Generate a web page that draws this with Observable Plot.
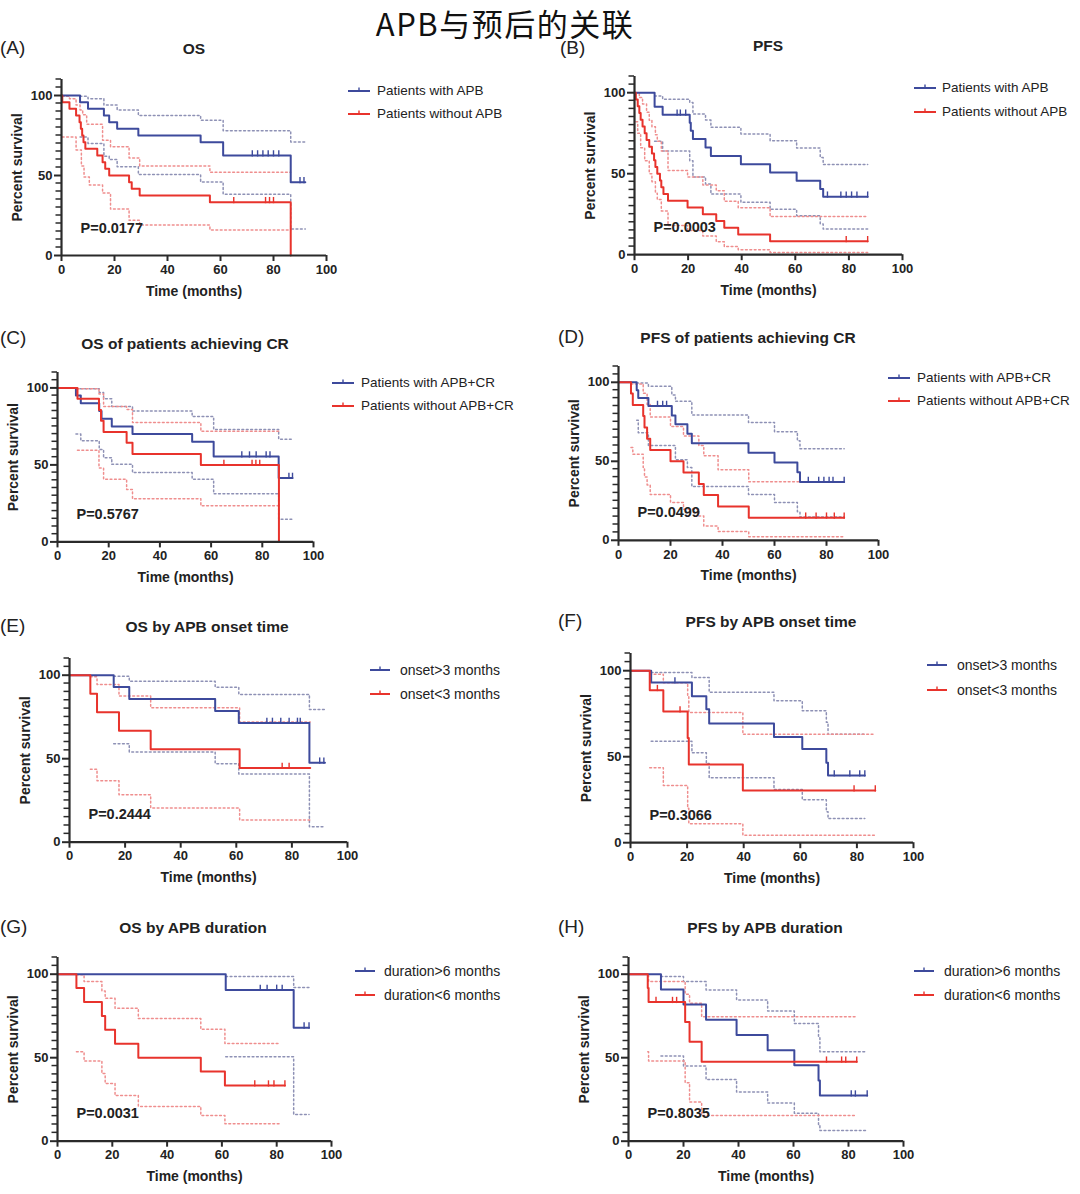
<!DOCTYPE html>
<html>
<head>
<meta charset="utf-8">
<script src="https://cdn.jsdelivr.net/npm/d3@7"></script>
<script src="https://cdn.jsdelivr.net/npm/@observablehq/plot@0.6"></script>
<style>
  html, body { margin: 0; padding: 0; background: #fff; }
  #page { position: relative; width: 1080px; height: 1194px; background: #fff; overflow: hidden; font-family: "Liberation Sans", Arial, sans-serif; color: #222; }
  .t { position: absolute; white-space: nowrap; line-height: 1.15; }
  .chart { position: absolute; }
  .chart svg { overflow: visible; }
</style>
</head>
<body>
<div id="page"></div>
<script>
const pageTitle = "APB与预后的关联";
const panelLetters = ["(A)", "(B)", "(C)", "(D)", "(E)", "(F)", "(G)", "(H)"];
const panelTitles = ["OS", "PFS", "OS of patients achieving CR", "PFS of patients achieving CR",
  "OS by APB onset time", "PFS by APB onset time", "OS by APB duration", "PFS by APB duration"];
const pValues = ["P=0.0177", "P=0.0003", "P=0.5767", "P=0.0499", "P=0.2444", "P=0.3066", "P=0.0031", "P=0.8035"];
const legendAB = ["Patients with APB", "Patients without APB"];
const legendCD = ["Patients with APB+CR", "Patients without APB+CR"];
const legendEF = ["onset>3 months", "onset<3 months"];
const legendGH = ["duration>6 months", "duration<6 months"];
const xLabel = "Time (months)";
const yLabel = "Percent survival";
const xTicks = [0, 20, 40, 60, 80, 100];
const yTicks = [0, 50, 100];
const yMinorTicks = [5, 10, 15, 20, 25, 30, 35, 40, 45, 55, 60, 65, 70, 75, 80, 85, 90, 95, 105, 110];

// data: [time (months), percent survival]
// (A) OS
const aBlue = [[0,100],[7,95.8],[10,91.7],[16,87.5],[18,83.3],[21,79.2],[29,75],[52.5,70.8],[61,62.5],[86.5,45.8],[92,45.8]];
const aBlueCens = [[72,62.5],[74,62.5],[76,62.5],[78,62.5],[80,62.5],[82,62.5],[90,45.8],[91.5,45.8]];
const aRed = [[0,100],[0.3,95.8],[3,91.7],[5.5,87.5],[6.8,83.3],[7.3,79.2],[7.8,75],[8.3,70.8],[9,66.7],[13.5,62.5],[15.5,58.3],[16.5,54.2],[18,50],[25.5,45.8],[26.5,41.7],[29.5,37.5],[56,33.3],[86.5,0]];
const aRedCens = [[65,33.3],[77,33.3],[78.5,33.3],[80,33.3]];
const aBlueHi = [[7,99.5],[10,98],[16,94],[21,91],[29,87.5],[52.5,84.6],[61,78],[86.5,71],[92,71]];
const aBlueLo = [[7,74],[10,70],[16,62],[18,60],[21,55.4],[29,50.6],[52.5,46],[61,38.3],[86.5,16.5],[92,16.5]];
const aRedHi = [[0.3,99.5],[3,98],[5.5,94],[7,91],[8,88],[9.5,82],[15.5,72],[18.5,68],[25.5,61],[29.5,56],[56,52],[86.5,52]];
const aRedLo = [[0.3,74],[5.5,66],[7.5,56],[8.5,49],[10.5,44],[15.5,39],[18.5,29],[25.5,22],[29.5,19],[56,16],[86.5,16]];
// (B) PFS
const bBlue = [[0,100],[7.5,91.4],[10.5,86.4],[20.6,81.5],[21,76.5],[21.8,71.4],[26.5,66.2],[28.5,61],[39.7,55.9],[50.6,50.8],[60.5,45.7],[69.3,40.6],[70.4,35.8],[87,35.8]];
const bBlueCens = [[15.9,86.4],[17.1,86.4],[19.1,86.4],[72,35.8],[77,35.8],[79,35.8],[81,35.8],[83,35.8],[87,35.8]];
const bRed = [[0,100],[0.5,95.8],[1.2,91.7],[1.8,87.5],[2.3,83.3],[3,79.2],[3.8,75],[4.5,70.8],[5.5,66.7],[6.5,62.5],[7.3,58.3],[7.8,54.2],[8.5,50],[9.5,45.8],[10,41.7],[10.8,37.5],[12.5,33.3],[19.8,29.2],[25.5,25],[30.5,20.8],[33.5,16.7],[38.7,12.5],[50.6,8.3],[87,8.3]];
const bRedCens = [[79,8.3],[87,8.3]];
const bBlueHi = [[7.5,98],[10.5,96],[20.6,94],[21.8,86.8],[26.5,83.1],[28.5,78.6],[39.7,74.5],[50.6,70.4],[60.5,65.8],[69.3,60],[70.4,55.6],[87,55.6]];
const bBlueLo = [[7.5,70],[10.5,64],[20.6,58],[21.8,48],[26.5,43.6],[28.5,37.4],[39.7,32.3],[50.6,28],[60.5,24],[69.3,19],[70.4,15.8],[87,15.8]];
const bRedHi = [[0.5,100],[1.8,97],[3,93],[4.5,88],[5.5,83],[6.5,79],[7.8,74],[8.5,70],[10,64],[12.5,52],[19.8,48],[25.5,43],[30.5,39.5],[33.5,33],[38.7,29],[50.6,23.5],[87,23.5]];
const bRedLo = [[0.5,82],[1.2,75],[2.3,66],[3.8,58],[5.5,50],[6.5,45],[7.8,38],[8.5,34],[10,27],[12.5,18],[19.8,15],[25.5,11.5],[30.5,8],[33.5,5],[38.7,3],[50.6,1.4],[87,1.4]];
// (C) OS of patients achieving CR
const cBlue = [[0,100],[7.2,95],[9.1,90],[16.3,85],[17.2,80],[21.2,75],[29.3,70],[52.6,65],[61,55.4],[86.4,41.5],[91.8,41.5]];
const cBlueCens = [[72,55.4],[75,55.4],[77.6,55.4],[81.5,55.4],[83,55.4],[90.4,41.5],[91.8,41.5]];
const cRed = [[0,100],[7.8,92.9],[16.2,85.7],[17,78.6],[18,71.4],[27,64.3],[29.3,57.1],[56,50],[86.5,0]];
const cRedCens = [[65,50],[76,50],[77.5,50],[79,50]];
const cBlueHi = [[7.2,99.5],[16.3,97],[18,93],[21.2,88],[29.3,85],[52.6,81.4],[61,73],[86.4,66.7],[91.8,66.7]];
const cBlueLo = [[7.2,70],[9.1,65.6],[16.3,60],[18,54.7],[21.2,50.4],[29.3,45],[52.6,40.7],[61,31.2],[86.4,14.7],[91.8,14.7]];
const cRedHi = [[7.8,99.5],[16.2,96],[18,88],[27,86],[29.3,77.5],[56,71.8],[86.5,71.8]];
const cRedLo = [[7.8,59.5],[16.2,48],[18,40.7],[27,34],[29.3,28],[56,23.4],[86.5,23.4]];
// (D) PFS of patients achieving CR
const dBlue = [[0,100],[7,95],[7.6,90],[11.5,85],[20.5,79],[21.9,73.5],[26.5,67.5],[28.2,61.5],[50,55.4],[60,49.2],[68.8,43],[69.8,36.9],[86.8,36.9]];
const dBlueCens = [[15,85],[17,85],[18.5,85],[73,36.9],[77,36.9],[79,36.9],[81,36.9],[82.5,36.9],[86.8,36.9]];
const dRed = [[0,100],[4.8,92.9],[5.5,85.7],[9.5,78.6],[10,71.4],[11,64.3],[12.2,57.1],[20,50],[25,42.9],[30.9,35.7],[32.8,28.6],[38.3,21.4],[50.1,14.3],[86.8,14.3]];
const dRedCens = [[72,14.3],[76,14.3],[80,14.3],[83,14.3],[86.8,14.3]];
const dBlueHi = [[7,99.5],[11.5,97.5],[20.5,92],[21.9,88],[28.2,79.3],[50,74.6],[60,68.7],[68.8,63],[69.8,58],[86.8,58]];
const dBlueLo = [[7,76],[7.6,68],[11.5,60],[21.9,51],[26.5,46],[28.2,34],[50,29],[60,24],[68.8,18],[69.8,14.8],[86.8,14.8]];
const dRedHi = [[4.8,99],[9.5,93],[11,86],[12.2,78],[20,72],[25,66],[30.9,60],[32.8,53.5],[38.3,44.6],[50.1,37],[86.8,37]];
const dRedLo = [[4.8,58.8],[5.5,54.5],[9.5,46],[10,40],[11,35],[12.2,29],[20,24],[25,19.7],[30.9,15.4],[32.8,9],[38.3,5.5],[50.1,2.3],[86.8,2.3]];
// (E) OS by APB onset time
const eBlue = [[0,100],[15.9,92.9],[21.5,85.7],[52.4,78.6],[60.9,71.4],[86.3,47.6],[91.9,47.6]];
const eBlueCens = [[71,71.4],[73,71.4],[76,71.4],[79,71.4],[82,71.4],[83,71.4],[90,47.6],[91.5,47.6]];
const eRed = [[0,100],[7.5,88.9],[9.9,77.8],[17.8,66.7],[29.2,55.6],[61.2,44.4],[86.6,44.4]];
const eRedCens = [[76.5,44.4],[79,44.4]];
const eBlueHi = [[15.9,99.4],[21.5,96.4],[52.4,92.8],[60.9,88.5],[86.3,79.5],[91.9,79.5]];
const eBlueLo = [[15.9,59],[21.5,54],[52.4,47],[60.9,40.8],[86.3,9.3],[91.9,9.3]];
const eRedHi = [[7.5,99],[9.9,94.5],[17.8,87.5],[29.2,80.5],[61.2,72],[86.6,72]];
const eRedLo = [[7.5,43.7],[9.9,36.8],[17.8,28.4],[29.2,20.5],[61.2,13.3],[86.6,13.3]];
// (F) PFS by APB onset time
const fBlue = [[0,100],[7.3,93.2],[21.7,85.2],[26.8,77.6],[27.8,69.3],[50.7,61.5],[60.7,54.5],[69.2,46.5],[69.8,39.1],[82.8,39.1]];
const fBlueCens = [[15.7,93.2],[72,39.1],[77.5,39.1],[81,39.1],[82.8,39.1]];
const fRed = [[0,100],[6.8,88.7],[11.6,76.3],[20.2,60.8],[20.6,45.5],[39.7,30.4],[86.5,30.4]];
const fRedCens = [[9.5,88.7],[17.5,76.3],[79,30.4],[86.5,30.4]];
const fBlueHi = [[7.3,99],[21.7,96],[27.8,87.4],[50.7,82.5],[60.7,76.7],[69.2,70],[69.8,63],[82.8,63]];
const fBlueLo = [[7.3,59],[21.7,52.3],[26.8,46],[27.8,37.7],[50.7,30.9],[60.7,25],[69.2,18],[69.8,14],[82.8,14]];
const fRedHi = [[6.8,98],[11.6,93],[20.2,85],[20.6,75.7],[39.7,63],[86.5,63]];
const fRedLo = [[6.8,43.6],[11.6,33.3],[20.2,20],[20.6,11],[39.7,4.3],[86.5,4.3]];
// (G) OS by APB duration
const gBlue = [[0,100],[61.4,90.6],[86.2,68],[91.8,68]];
const gBlueCens = [[74,90.6],[76.5,90.6],[80,90.6],[82,90.6],[90,68],[91.8,68]];
const gRed = [[0,100],[6.9,91.7],[9.7,83.3],[16.2,75],[17.4,66.7],[21,58.3],[29.5,50],[52.3,41.7],[61.1,33.3],[83,33.3]];
const gRedCens = [[72,33.3],[77,33.3],[79,33.3],[83,33.3]];
const gBlueHi = [[61.4,98.6],[86.2,92],[91.8,92]];
const gBlueLo = [[61.4,50.5],[86.2,16],[91.8,16]];
const gRedHi = [[6.9,99.6],[9.7,95.6],[16.2,90],[17.4,85.6],[21,79.6],[29.5,73.4],[52.3,67],[61.1,58.5],[81,58.5]];
const gRedLo = [[6.9,53.5],[9.7,48],[16.2,40.5],[17.4,34.5],[21,27.3],[29.5,20.8],[52.3,15.4],[61.1,10.4],[81,10.4]];
// (H) PFS by APB duration
const hBlue = [[0,100],[11.8,90.9],[20,81.8],[28.2,72.7],[39.3,63.6],[50.6,54.5],[60.3,45.5],[69.1,36.4],[69.6,27.3],[86.8,27.3]];
const hBlueCens = [[81,27.3],[82.5,27.3],[86.8,27.3]];
const hRed = [[0,100],[7,91.7],[7.3,83.3],[20.6,71.4],[22.2,59.5],[26.6,47.6],[83,47.6]];
const hRedCens = [[10,83.3],[16,83.3],[17.5,83.3],[72,47.6],[77.5,47.6],[79,47.6],[83,47.6]];
const hBlueHi = [[11.8,98.6],[20,95.6],[28.2,90.6],[39.3,84.6],[50.6,78],[60.3,70.5],[69.1,62],[69.6,53.5],[86.8,53.5]];
const hBlueLo = [[11.8,51],[20,45],[28.2,36.9],[39.3,29.5],[50.6,22.8],[60.3,16.8],[69.1,10],[69.6,6.4],[86.8,6.4]];
const hRedHi = [[7,99],[7.3,95.6],[20.6,88],[22.2,82.6],[26.6,74.5],[83,74.5]];
const hRedLo = [[7,53.5],[7.3,48],[20.6,35],[22.2,23.4],[26.6,15.4],[83,15.4]];

const BLUE = "#3d4a9c", RED = "#e8332c", BLUE_CI = "#8e91b5", RED_CI = "#ef8e8e", AXIS = "#2a2a2a";
const FONT = "'Liberation Sans', Arial, sans-serif";

const panels = [
  {x0:61,  x100:326, y0:255,  y100:95,  title:[194,49],  letter:[0,48],   leg:[348,370,377,91,114, 13.5], legend: legendAB,
   d:[aBlue,aRed,aBlueHi,aBlueLo,aRedHi,aRedLo,aBlueCens,aRedCens]},
  {x0:634, x100:902, y0:254,  y100:92,  title:[768,46],  letter:[560,48], leg:[914,936,942,88,112, 13.5], legend: legendAB,
   d:[bBlue,bRed,bBlueHi,bBlueLo,bRedHi,bRedLo,bBlueCens,bRedCens]},
  {x0:57,  x100:313, y0:541,  y100:387, title:[185,344], letter:[0,338],  leg:[332,354,361,383,406, 13.5], legend: legendCD,
   d:[cBlue,cRed,cBlueHi,cBlueLo,cRedHi,cRedLo,cBlueCens,cRedCens]},
  {x0:618, x100:878, y0:540,  y100:382, title:[748,338], letter:[558,337],leg:[888,910,917,378,401, 13.5], legend: legendCD,
   d:[dBlue,dRed,dBlueHi,dBlueLo,dRedHi,dRedLo,dBlueCens,dRedCens]},
  {x0:69,  x100:347, y0:842,  y100:675, title:[207,627], letter:[0,626],  leg:[370,390,400,670,694, 14], legend: legendEF,
   d:[eBlue,eRed,eBlueHi,eBlueLo,eRedHi,eRedLo,eBlueCens,eRedCens]},
  {x0:630, x100:913, y0:842,  y100:670, title:[771,622], letter:[558,621],leg:[927,947,957,665,690, 14], legend: legendEF,
   d:[fBlue,fRed,fBlueHi,fBlueLo,fRedHi,fRedLo,fBlueCens,fRedCens]},
  {x0:57,  x100:331, y0:1141, y100:974, title:[193,928], letter:[0,927],  leg:[355,375,384,971,995, 14], legend: legendGH,
   d:[gBlue,gRed,gBlueHi,gBlueLo,gRedHi,gRedLo,gBlueCens,gRedCens]},
  {x0:628, x100:903, y0:1141, y100:974, title:[765,928], letter:[558,927],leg:[914,934,944,971,995, 14], legend: legendGH,
   d:[hBlue,hRed,hBlueHi,hBlueLo,hRedHi,hRedLo,hBlueCens,hRedCens]},
];

const page = document.getElementById("page");

function addText(str, x, y, opts = {}) {
  const el = document.createElement("div");
  el.className = "t";
  el.textContent = str;
  el.style.left = x + "px";
  el.style.top = y + "px";
  el.style.fontSize = (opts.size || 14) + "px";
  el.style.fontWeight = opts.weight || "normal";
  if (opts.family) el.style.fontFamily = opts.family;
  if (opts.color) el.style.color = opts.color;
  if (opts.lineHeight) el.style.lineHeight = opts.lineHeight;
  if (opts.spacing) el.style.letterSpacing = opts.spacing;
  const tx = opts.anchor === "middle" ? "-50%" : "0";
  el.style.transform = `translate(${tx}, -50%)`;
  page.appendChild(el);
  return el;
}

const censorSymbol = {
  draw(context, size) {
    const h = Math.sqrt(size) * 0.9;
    context.moveTo(0, 1);
    context.lineTo(0, -h);
  }
};

function legendSwatch(color, x1, x2, y) {
  const ns = "http://www.w3.org/2000/svg";
  const svg = document.createElementNS(ns, "svg");
  const w = x2 - x1;
  svg.setAttribute("width", w);
  svg.setAttribute("height", 12);
  svg.style.position = "absolute";
  svg.style.left = x1 + "px";
  svg.style.top = (y - 6) + "px";
  const line = document.createElementNS(ns, "line");
  line.setAttribute("x1", 0); line.setAttribute("x2", w);
  line.setAttribute("y1", 6); line.setAttribute("y2", 6);
  line.setAttribute("stroke", color); line.setAttribute("stroke-width", 2);
  svg.appendChild(line);
  const tick = document.createElementNS(ns, "line");
  tick.setAttribute("x1", w / 2); tick.setAttribute("x2", w / 2);
  tick.setAttribute("y1", 6); tick.setAttribute("y2", 2.5);
  tick.setAttribute("stroke", color); tick.setAttribute("stroke-width", 1.4);
  svg.appendChild(tick);
  page.appendChild(svg);
}

addText(pageTitle, 505, 22, {size: 31, anchor: "middle", lineHeight: "1", spacing: "1.5px", family: "'Noto Sans CJK SC', 'Liberation Serif', serif", color: "#111"});

panels.forEach((p, i) => {
  const [blue, red, blueHi, blueLo, redHi, redLo, blueCens, redCens] = p.d;
  const ppy = (p.y0 - p.y100) / 100;
  const mL = 52, mR = 18, mT = 6, mB = 52;
  const plotW = p.x100 - p.x0;
  const plotH = 110 * ppy;
  const X = d => d[0], Y = d => d[1];
  const ciLine = (data, color) => Plot.line(data, {x: X, y: Y, curve: "step-after", stroke: color, strokeWidth: 1.5, strokeDasharray: "1.8,2.6"});
  const kmLine = (data, color) => Plot.line(data, {x: X, y: Y, curve: "step-after", stroke: color, strokeWidth: 2});
  const cens = (data, color) => Plot.dot(data, {x: X, y: Y, symbol: censorSymbol, r: 3.3, stroke: color, strokeWidth: 1.4, fill: "none"});

  const chart = Plot.plot({
    width: mL + plotW + mR,
    height: mT + plotH + mB,
    marginLeft: mL, marginRight: mR, marginTop: mT, marginBottom: mB,
    x: {domain: [0, 100], axis: null},
    y: {domain: [0, 110], axis: null},
    style: {fontFamily: FONT, color: AXIS, background: "transparent", overflow: "visible"},
    marks: [
      ciLine(blueHi, BLUE_CI), ciLine(blueLo, BLUE_CI),
      ciLine(redHi, RED_CI), ciLine(redLo, RED_CI),
      kmLine(blue, BLUE), kmLine(red, RED),
      cens(blueCens, BLUE), cens(redCens, RED),
      Plot.axisX({ticks: xTicks, tickSize: 6, tickPadding: 3, tickFormat: d => d, fontSize: 13, fontWeight: "bold", label: null, strokeWidth: 2, stroke: AXIS, fill: "#222"}),
      Plot.axisY({ticks: yTicks, tickSize: 7, tickPadding: 2, tickFormat: d => d, fontSize: 13, fontWeight: "bold", label: null, strokeWidth: 2, stroke: AXIS, fill: "#222"}),
      Plot.ruleX([0], {stroke: AXIS, strokeWidth: 2.2}),
      Plot.ruleY([0], {stroke: AXIS, strokeWidth: 2.2}),
      Plot.text([xLabel], {text: d => d, frameAnchor: "bottom", dy: 40, fontSize: 14, fontWeight: "bold", fill: "#222"}),
      Plot.text([yLabel], {text: d => d, frameAnchor: "left", textAnchor: "middle", dx: -44, rotate: -90, fontSize: 14, fontWeight: "bold", fill: "#222"}),
      Plot.text([pValues[i]], {text: d => d, frameAnchor: "bottom-left", dx: 19, dy: -23, textAnchor: "start", fontSize: 14.5, fontWeight: "bold", fill: "#222"})
    ]
  });
  // minor y ticks, positioned with the chart's own y scale
  const yScale = chart.scale("y");
  const ns = "http://www.w3.org/2000/svg";
  const g = document.createElementNS(ns, "g");
  g.setAttribute("stroke", AXIS);
  g.setAttribute("stroke-width", 1.5);
  yMinorTicks.forEach(v => {
    const yy = yScale.apply(v);
    const l = document.createElementNS(ns, "line");
    l.setAttribute("x1", mL - 5.5); l.setAttribute("x2", mL);
    l.setAttribute("y1", yy); l.setAttribute("y2", yy);
    g.appendChild(l);
  });
  chart.appendChild(g);

  const wrap = document.createElement("div");
  wrap.className = "chart";
  wrap.style.left = (p.x0 - mL) + "px";
  wrap.style.top = (p.y0 - plotH - mT) + "px";
  wrap.appendChild(chart);
  page.appendChild(wrap);

  addText(panelLetters[i], p.letter[0], p.letter[1], {size: 19, lineHeight: "0.9"});
  addText(panelTitles[i], p.title[0], p.title[1], {size: 15.5, weight: "bold", anchor: "middle"});
  const [lx1, lx2, tx, ly1, ly2, fs] = p.leg;
  legendSwatch(BLUE, lx1, lx2, ly1);
  legendSwatch(RED, lx1, lx2, ly2);
  addText(p.legend[0], tx, ly1, {size: fs});
  addText(p.legend[1], tx, ly2, {size: fs});
});
</script>
</body>
</html>
